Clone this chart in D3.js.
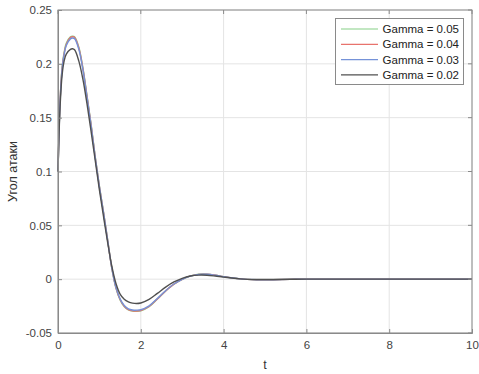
<!DOCTYPE html>
<html><head><meta charset="utf-8">
<script src="https://cdn.jsdelivr.net/npm/d3@7"></script>
<style>body{margin:0;background:#fff}svg{display:block}text{font-family:"Liberation Sans",Arial,sans-serif}</style>
</head><body><svg id="c" width="479" height="374"></svg>
<script>
const tVals = [0,0.05,0.1,0.15,0.2,0.3,0.35,0.4,0.5,0.6,0.7,0.8,0.9,1.0,1.1,1.2,1.3,1.4,1.5,1.6,1.7,1.8,1.9,2.0,2.2,2.4,2.6,2.8,3.0,3.2,3.4,3.6,3.8,4.0,4.4,4.8,5.2,5.6,6,7,8,9,10];
const g005 = [0.100,0.165,0.197,0.211,0.219,0.2250,0.2257,0.2252,0.2158,0.1965,0.1705,0.1435,0.1135,0.0865,0.0620,0.0362,0.0102,-0.0082,-0.0192,-0.0255,-0.0285,-0.0297,-0.0299,-0.0294,-0.0256,-0.0185,-0.0110,-0.0047,-0.0002,0.0030,0.0046,0.0047,0.0037,0.0024,0.0003,-0.0005,-0.0005,-0.0002,0,0,0,0,0];
const g004 = [0.100,0.165,0.196,0.210,0.218,0.2245,0.2252,0.2247,0.2152,0.1960,0.1700,0.1430,0.1130,0.0860,0.0618,0.0360,0.0102,-0.0080,-0.0189,-0.0252,-0.0282,-0.0294,-0.0296,-0.0291,-0.0254,-0.0183,-0.0109,-0.0046,-0.0002,0.0030,0.0045,0.0046,0.0037,0.0024,0.0003,-0.0005,-0.0005,-0.0002,0,0,0,0,0];
const g003 = [0.100,0.164,0.195,0.209,0.217,0.2232,0.2240,0.2234,0.2140,0.1950,0.1692,0.1424,0.1126,0.0857,0.0615,0.0358,0.0103,-0.0076,-0.0183,-0.0245,-0.0275,-0.0286,-0.0288,-0.0284,-0.0248,-0.0179,-0.0107,-0.0045,-0.0001,0.0029,0.0044,0.0045,0.0036,0.0023,0.0003,-0.0005,-0.0005,-0.0002,0,0,0,0,0];
const g002 = [0.100,0.160,0.190,0.203,0.209,0.2135,0.2140,0.2130,0.2030,0.1860,0.1630,0.1370,0.1100,0.0830,0.0580,0.0340,0.0120,-0.0040,-0.0138,-0.0186,-0.0210,-0.0222,-0.0226,-0.0221,-0.0188,-0.0132,-0.0074,-0.0026,0.0008,0.0029,0.0038,0.0037,0.0029,0.0019,0.0003,-0.0003,-0.0003,-0.0001,0,0,0,0,0];
const seriesNames = ["Gamma = 0.05","Gamma = 0.04","Gamma = 0.03","Gamma = 0.02"];
const seriesData = [g005,g004,g003,g002];
const seriesColors = ["#86d086","#e8736d","#7592d8","#505050"];
const xTicks = [0,2,4,6,8,10];
const yTicks = [-0.05,0,0.05,0.1,0.15,0.2,0.25];

const svg = d3.select("#c");
const L=58,R=472,T=10,B=333;
const x = d3.scaleLinear().domain([0,10]).range([L,R]);
const y = d3.scaleLinear().domain([-0.05,0.25]).range([B,T]);

// grid
svg.append("g").selectAll("line").data(xTicks).join("line")
 .attr("x1",d=>x(d)).attr("x2",d=>x(d)).attr("y1",T).attr("y2",B)
 .attr("stroke","#e4e4e4").attr("stroke-width",1);
svg.append("g").selectAll("line").data(yTicks).join("line")
 .attr("y1",d=>y(d)).attr("y2",d=>y(d)).attr("x1",L).attr("x2",R)
 .attr("stroke","#e4e4e4").attr("stroke-width",1);

// lines
const line = d3.line().x((d,i)=>x(tVals[i])).y(d=>y(d)).curve(d3.curveCatmullRom);
seriesData.forEach((s,k)=>{
  svg.append("path").attr("d",line(s)).attr("fill","none")
   .attr("stroke",seriesColors[k]).attr("stroke-width",1.4);
});

// box
svg.append("rect").attr("x",L).attr("y",T).attr("width",R-L).attr("height",B-T)
 .attr("fill","none").attr("stroke","#8a8a8a").attr("stroke-width",1);

// axes
const xa = svg.append("g").attr("transform",`translate(0,${B})`)
 .call(d3.axisBottom(x).tickValues(xTicks).tickSize(-4).tickPadding(8).tickFormat(d3.format("d")));
const ya = svg.append("g").attr("transform",`translate(${L},0)`)
 .call(d3.axisLeft(y).tickValues(yTicks).tickSize(-4).tickPadding(6).tickFormat(d=>d===0?"0":String(+d.toFixed(2))));
[xa,ya].forEach(a=>{
  a.select(".domain").attr("stroke","#8a8a8a");
  a.selectAll(".tick line").attr("stroke","#8a8a8a");
  a.selectAll(".tick text").attr("fill","#444").style("font-size","11.5px");
});
// top/right ticks
svg.append("g").selectAll("line").data(xTicks).join("line")
 .attr("x1",d=>x(d)).attr("x2",d=>x(d)).attr("y1",T).attr("y2",T+4).attr("stroke","#8a8a8a");
svg.append("g").selectAll("line").data(yTicks).join("line")
 .attr("y1",d=>y(d)).attr("y2",d=>y(d)).attr("x1",R).attr("x2",R-4).attr("stroke","#8a8a8a");

svg.append("text").attr("x",(L+R)/2).attr("y",369).attr("text-anchor","middle")
 .attr("fill","#333").style("font-size","12.5px").text("t");
svg.append("text").attr("transform",`translate(17,${(T+B)/2}) rotate(-90)`).attr("text-anchor","middle")
 .attr("fill","#333").style("font-size","12.5px").text("Угол атаки");

// legend
const lg = svg.append("g");
lg.append("rect").attr("x",335.5).attr("y",18.5).attr("width",128).attr("height",66)
 .attr("fill","#fff").attr("stroke","#8a8a8a");
seriesNames.forEach((n,k)=>{
  const yy = 29 + k*15.3;
  lg.append("line").attr("x1",341).attr("x2",378).attr("y1",yy).attr("y2",yy)
   .attr("stroke",seriesColors[k]).attr("stroke-width",1.2);
  lg.append("text").attr("x",459).attr("y",yy+4).attr("text-anchor","end")
   .attr("fill","#222").style("font-size","11.5px").text(n);
});
</script></body></html>
